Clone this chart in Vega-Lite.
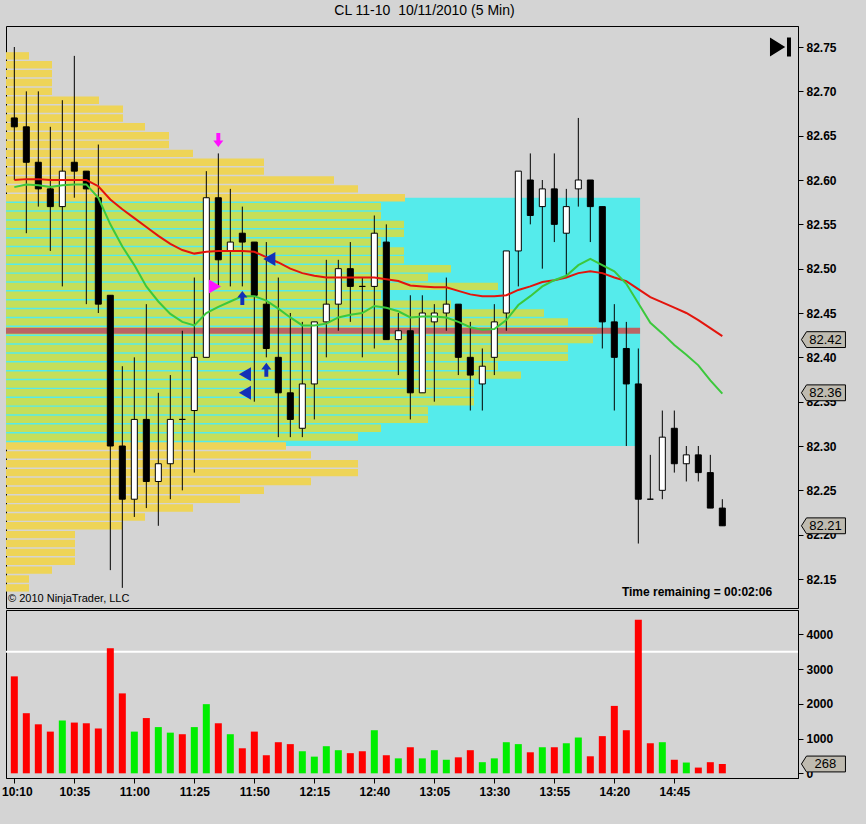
{
  "$schema": "https://vega.github.io/schema/vega-lite/v6.json",
  "background": "#d4d4d4",
  "padding": {"left": 0, "top": 3, "right": 19, "bottom": 26},
  "title": {
    "text": "CL 11-10\u00a0 10/11/2010 (5 Min)",
    "font": "Liberation Sans",
    "fontSize": 14,
    "fontWeight": "normal",
    "color": "#000000",
    "anchor": "middle",
    "offset": 8
  },
  "spacing": 0,
  "config": {
    "view": {"stroke": "#000000", "strokeWidth": 1},
    "axis": {
      "labelFont": "Liberation Sans",
      "labelFontSize": 12,
      "labelFontWeight": "bold",
      "labelColor": "#000000",
      "domainColor": "#000000",
      "tickColor": "#000000",
      "tickSize": 5,
      "grid": false
    }
  },
  "datasets": {
    "bars": [
      {"t": "2010-10-11T10:10", "o": 82.67, "h": 82.75, "l": 82.60, "c": 82.66, "vol": 2790, "ma1": 82.600, "ma2": 82.592},
      {"t": "2010-10-11T10:15", "o": 82.66, "h": 82.70, "l": 82.54, "c": 82.62, "vol": 1730, "ma1": 82.601, "ma2": 82.595},
      {"t": "2010-10-11T10:20", "o": 82.62, "h": 82.70, "l": 82.57, "c": 82.59, "vol": 1410, "ma1": 82.601, "ma2": 82.594},
      {"t": "2010-10-11T10:25", "o": 82.59, "h": 82.66, "l": 82.52, "c": 82.57, "vol": 1200, "ma1": 82.600, "ma2": 82.592},
      {"t": "2010-10-11T10:30", "o": 82.57, "h": 82.69, "l": 82.48, "c": 82.61, "vol": 1520, "ma1": 82.600, "ma2": 82.594},
      {"t": "2010-10-11T10:35", "o": 82.62, "h": 82.74, "l": 82.58, "c": 82.61, "vol": 1460, "ma1": 82.600, "ma2": 82.595},
      {"t": "2010-10-11T10:40", "o": 82.61, "h": 82.61, "l": 82.46, "c": 82.59, "vol": 1440, "ma1": 82.600, "ma2": 82.595},
      {"t": "2010-10-11T10:45", "o": 82.58, "h": 82.64, "l": 82.45, "c": 82.46, "vol": 1290, "ma1": 82.593, "ma2": 82.580},
      {"t": "2010-10-11T10:50", "o": 82.47, "h": 82.47, "l": 82.16, "c": 82.30, "vol": 3600, "ma1": 82.578, "ma2": 82.550},
      {"t": "2010-10-11T10:55", "o": 82.30, "h": 82.39, "l": 82.14, "c": 82.24, "vol": 2300, "ma1": 82.567, "ma2": 82.525},
      {"t": "2010-10-11T11:00", "o": 82.24, "h": 82.40, "l": 82.22, "c": 82.33, "vol": 1200, "ma1": 82.557, "ma2": 82.504},
      {"t": "2010-10-11T11:05", "o": 82.33, "h": 82.46, "l": 82.23, "c": 82.26, "vol": 1590, "ma1": 82.547, "ma2": 82.480},
      {"t": "2010-10-11T11:10", "o": 82.26, "h": 82.36, "l": 82.21, "c": 82.28, "vol": 1330, "ma1": 82.537, "ma2": 82.463},
      {"t": "2010-10-11T11:15", "o": 82.28, "h": 82.38, "l": 82.24, "c": 82.33, "vol": 1170, "ma1": 82.528, "ma2": 82.449},
      {"t": "2010-10-11T11:20", "o": 82.33, "h": 82.43, "l": 82.25, "c": 82.33, "vol": 1125, "ma1": 82.521, "ma2": 82.440},
      {"t": "2010-10-11T11:25", "o": 82.34, "h": 82.49, "l": 82.27, "c": 82.40, "vol": 1330, "ma1": 82.517, "ma2": 82.436},
      {"t": "2010-10-11T11:30", "o": 82.40, "h": 82.61, "l": 82.40, "c": 82.58, "vol": 1990, "ma1": 82.519, "ma2": 82.450},
      {"t": "2010-10-11T11:35", "o": 82.58, "h": 82.63, "l": 82.48, "c": 82.51, "vol": 1440, "ma1": 82.520, "ma2": 82.457},
      {"t": "2010-10-11T11:40", "o": 82.52, "h": 82.59, "l": 82.48, "c": 82.53, "vol": 1125, "ma1": 82.520, "ma2": 82.463},
      {"t": "2010-10-11T11:45", "o": 82.54, "h": 82.57, "l": 82.48, "c": 82.53, "vol": 720, "ma1": 82.520, "ma2": 82.469},
      {"t": "2010-10-11T11:50", "o": 82.53, "h": 82.53, "l": 82.35, "c": 82.47, "vol": 1200, "ma1": 82.519, "ma2": 82.469},
      {"t": "2010-10-11T11:55", "o": 82.46, "h": 82.53, "l": 82.40, "c": 82.41, "vol": 520, "ma1": 82.513, "ma2": 82.464},
      {"t": "2010-10-11T12:00", "o": 82.40, "h": 82.49, "l": 82.31, "c": 82.36, "vol": 895, "ma1": 82.507, "ma2": 82.455},
      {"t": "2010-10-11T12:05", "o": 82.36, "h": 82.45, "l": 82.31, "c": 82.33, "vol": 840, "ma1": 82.500, "ma2": 82.445},
      {"t": "2010-10-11T12:10", "o": 82.32, "h": 82.44, "l": 82.31, "c": 82.37, "vol": 635, "ma1": 82.495, "ma2": 82.436},
      {"t": "2010-10-11T12:15", "o": 82.37, "h": 82.44, "l": 82.33, "c": 82.44, "vol": 480, "ma1": 82.492, "ma2": 82.436},
      {"t": "2010-10-11T12:20", "o": 82.44, "h": 82.51, "l": 82.40, "c": 82.46, "vol": 780, "ma1": 82.490, "ma2": 82.438},
      {"t": "2010-10-11T12:25", "o": 82.46, "h": 82.51, "l": 82.43, "c": 82.50, "vol": 665, "ma1": 82.490, "ma2": 82.445},
      {"t": "2010-10-11T12:30", "o": 82.50, "h": 82.53, "l": 82.44, "c": 82.48, "vol": 580, "ma1": 82.490, "ma2": 82.448},
      {"t": "2010-10-11T12:35", "o": 82.48, "h": 82.49, "l": 82.40, "c": 82.48, "vol": 635, "ma1": 82.490, "ma2": 82.450},
      {"t": "2010-10-11T12:40", "o": 82.48, "h": 82.56, "l": 82.41, "c": 82.54, "vol": 1240, "ma1": 82.490, "ma2": 82.458},
      {"t": "2010-10-11T12:45", "o": 82.53, "h": 82.55, "l": 82.42, "c": 82.42, "vol": 520, "ma1": 82.488, "ma2": 82.456},
      {"t": "2010-10-11T12:50", "o": 82.42, "h": 82.45, "l": 82.38, "c": 82.43, "vol": 430, "ma1": 82.486, "ma2": 82.452},
      {"t": "2010-10-11T12:55", "o": 82.43, "h": 82.47, "l": 82.33, "c": 82.36, "vol": 750, "ma1": 82.481, "ma2": 82.445},
      {"t": "2010-10-11T13:00", "o": 82.36, "h": 82.47, "l": 82.36, "c": 82.45, "vol": 430, "ma1": 82.480, "ma2": 82.446},
      {"t": "2010-10-11T13:05", "o": 82.44, "h": 82.46, "l": 82.35, "c": 82.45, "vol": 665, "ma1": 82.479, "ma2": 82.446},
      {"t": "2010-10-11T13:10", "o": 82.45, "h": 82.49, "l": 82.43, "c": 82.46, "vol": 390, "ma1": 82.479, "ma2": 82.445},
      {"t": "2010-10-11T13:15", "o": 82.46, "h": 82.46, "l": 82.38, "c": 82.40, "vol": 460, "ma1": 82.475, "ma2": 82.440},
      {"t": "2010-10-11T13:20", "o": 82.40, "h": 82.44, "l": 82.34, "c": 82.38, "vol": 665, "ma1": 82.471, "ma2": 82.434},
      {"t": "2010-10-11T13:25", "o": 82.37, "h": 82.41, "l": 82.34, "c": 82.39, "vol": 320, "ma1": 82.469, "ma2": 82.431},
      {"t": "2010-10-11T13:30", "o": 82.40, "h": 82.46, "l": 82.38, "c": 82.44, "vol": 430, "ma1": 82.469, "ma2": 82.432},
      {"t": "2010-10-11T13:35", "o": 82.45, "h": 82.52, "l": 82.43, "c": 82.52, "vol": 895, "ma1": 82.470, "ma2": 82.442},
      {"t": "2010-10-11T13:40", "o": 82.52, "h": 82.61, "l": 82.48, "c": 82.61, "vol": 840, "ma1": 82.476, "ma2": 82.459},
      {"t": "2010-10-11T13:45", "o": 82.60, "h": 82.63, "l": 82.55, "c": 82.56, "vol": 605, "ma1": 82.480, "ma2": 82.469},
      {"t": "2010-10-11T13:50", "o": 82.57, "h": 82.60, "l": 82.50, "c": 82.59, "vol": 750, "ma1": 82.485, "ma2": 82.480},
      {"t": "2010-10-11T13:55", "o": 82.59, "h": 82.63, "l": 82.53, "c": 82.55, "vol": 750, "ma1": 82.487, "ma2": 82.487},
      {"t": "2010-10-11T14:00", "o": 82.54, "h": 82.59, "l": 82.49, "c": 82.57, "vol": 865, "ma1": 82.490, "ma2": 82.492},
      {"t": "2010-10-11T14:05", "o": 82.59, "h": 82.67, "l": 82.57, "c": 82.60, "vol": 1030, "ma1": 82.495, "ma2": 82.504},
      {"t": "2010-10-11T14:10", "o": 82.60, "h": 82.60, "l": 82.53, "c": 82.57, "vol": 490, "ma1": 82.497, "ma2": 82.511},
      {"t": "2010-10-11T14:15", "o": 82.57, "h": 82.57, "l": 82.41, "c": 82.44, "vol": 1070, "ma1": 82.495, "ma2": 82.504},
      {"t": "2010-10-11T14:20", "o": 82.44, "h": 82.46, "l": 82.34, "c": 82.40, "vol": 1940, "ma1": 82.490, "ma2": 82.497},
      {"t": "2010-10-11T14:25", "o": 82.41, "h": 82.44, "l": 82.30, "c": 82.37, "vol": 1240, "ma1": 82.486, "ma2": 82.483},
      {"t": "2010-10-11T14:30", "o": 82.37, "h": 82.41, "l": 82.19, "c": 82.24, "vol": 4420, "ma1": 82.477, "ma2": 82.461},
      {"t": "2010-10-11T14:35", "o": 82.24, "h": 82.29, "l": 82.24, "c": 82.24, "vol": 865, "ma1": 82.468, "ma2": 82.439},
      {"t": "2010-10-11T14:40", "o": 82.25, "h": 82.34, "l": 82.24, "c": 82.31, "vol": 895, "ma1": 82.462, "ma2": 82.427},
      {"t": "2010-10-11T14:45", "o": 82.32, "h": 82.34, "l": 82.27, "c": 82.28, "vol": 390, "ma1": 82.456, "ma2": 82.414},
      {"t": "2010-10-11T14:50", "o": 82.28, "h": 82.30, "l": 82.26, "c": 82.29, "vol": 310, "ma1": 82.450, "ma2": 82.403},
      {"t": "2010-10-11T14:55", "o": 82.29, "h": 82.30, "l": 82.26, "c": 82.27, "vol": 165, "ma1": 82.442, "ma2": 82.391},
      {"t": "2010-10-11T15:00", "o": 82.27, "h": 82.29, "l": 82.23, "c": 82.23, "vol": 320, "ma1": 82.433, "ma2": 82.374},
      {"t": "2010-10-11T15:05", "o": 82.23, "h": 82.24, "l": 82.21, "c": 82.21, "vol": 268, "ma1": 82.424, "ma2": 82.359}
    ],
    "profile": [
      {"p": 82.74, "v": 230}, {"p": 82.73, "v": 460}, {"p": 82.72, "v": 460}, {"p": 82.71, "v": 460},
      {"p": 82.70, "v": 460}, {"p": 82.69, "v": 930}, {"p": 82.68, "v": 1170}, {"p": 82.67, "v": 1170},
      {"p": 82.66, "v": 1390}, {"p": 82.65, "v": 1630}, {"p": 82.64, "v": 1630}, {"p": 82.63, "v": 1870},
      {"p": 82.62, "v": 2580}, {"p": 82.61, "v": 2580}, {"p": 82.60, "v": 3280}, {"p": 82.59, "v": 3520},
      {"p": 82.58, "v": 3990}, {"p": 82.57, "v": 3750}, {"p": 82.56, "v": 3750}, {"p": 82.55, "v": 3980},
      {"p": 82.54, "v": 3980}, {"p": 82.53, "v": 3750}, {"p": 82.52, "v": 3980}, {"p": 82.51, "v": 3980},
      {"p": 82.50, "v": 4450}, {"p": 82.49, "v": 4220}, {"p": 82.48, "v": 4920}, {"p": 82.47, "v": 3750},
      {"p": 82.46, "v": 4450}, {"p": 82.45, "v": 5380}, {"p": 82.44, "v": 5620}, {"p": 82.43, "v": 5910},
      {"p": 82.42, "v": 5870}, {"p": 82.41, "v": 5620}, {"p": 82.40, "v": 5620}, {"p": 82.39, "v": 4920},
      {"p": 82.38, "v": 5150}, {"p": 82.37, "v": 4680}, {"p": 82.36, "v": 4680}, {"p": 82.35, "v": 4680},
      {"p": 82.34, "v": 4220}, {"p": 82.33, "v": 4220}, {"p": 82.32, "v": 3750}, {"p": 82.31, "v": 3520},
      {"p": 82.30, "v": 2800}, {"p": 82.29, "v": 3050}, {"p": 82.28, "v": 3520}, {"p": 82.27, "v": 3520},
      {"p": 82.26, "v": 3050}, {"p": 82.25, "v": 2580}, {"p": 82.24, "v": 2340}, {"p": 82.23, "v": 1870},
      {"p": 82.22, "v": 1390}, {"p": 82.21, "v": 1160}, {"p": 82.20, "v": 690}, {"p": 82.19, "v": 690},
      {"p": 82.18, "v": 690}, {"p": 82.17, "v": 690}, {"p": 82.16, "v": 460}, {"p": 82.15, "v": 230},
      {"p": 82.14, "v": 230}
    ],
    "va": [
      {"t0": "2010-10-11T10:06:32", "t1": "2010-10-11T14:30:44", "val": 82.30, "vah": 82.58, "poc": 82.43}
    ],
    "signals": [
      {"t": "2010-10-11T11:35:00", "p": 82.645, "kind": "short"},
      {"t": "2010-10-11T11:33:36", "p": 82.48, "kind": "fill short"},
      {"t": "2010-10-11T11:45:00", "p": 82.467, "kind": "long"},
      {"t": "2010-10-11T11:55:00", "p": 82.386, "kind": "long"},
      {"t": "2010-10-11T11:56:15", "p": 82.511, "kind": "fill long"},
      {"t": "2010-10-11T11:46:06", "p": 82.381, "kind": "fill long"},
      {"t": "2010-10-11T11:46:06", "p": 82.36, "kind": "fill long"}
    ],
    "flags": [
      {"p": 82.42}, {"p": 82.36}, {"p": 82.21}
    ],
    "volflag": [
      {"v": 268}
    ]
  },
  "vconcat": [
    {
      "width": 792,
      "height": 582,
      "layer": [
        {
          "data": {"name": "va"},
          "mark": {"type": "rect", "color": "#55ebeb"},
          "encoding": {
            "x": {"field": "t0", "type": "temporal", "axis": null,
                  "scale": {"nice": false, "padding": 0, "domain": [
                    {"year": 2010, "month": 10, "date": 11, "hours": 10, "minutes": 6, "seconds": 32},
                    {"year": 2010, "month": 10, "date": 11, "hours": 15, "minutes": 36, "seconds": 32}]}},
            "x2": {"field": "t1"},
            "y": {"field": "val", "type": "quantitative", "title": null,
                  "scale": {"domain": [82.1173, 82.7737], "nice": false, "zero": false, "padding": 0},
                  "axis": {"orient": "right", "format": ".2f", "labelPadding": 3,
                           "values": [82.15, 82.2, 82.25, 82.3, 82.35, 82.4, 82.45, 82.5, 82.55, 82.6, 82.65, 82.7, 82.75]}},
            "y2": {"field": "vah"}
          }
        },
        {
          "data": {"name": "profile"},
          "mark": {"type": "bar", "orient": "horizontal", "size": 7.4},
          "encoding": {
            "x": {"field": "v", "type": "quantitative", "axis": null, "scale": {"domain": [0, 7920], "nice": false, "padding": 0}},
            "y": {"field": "p", "type": "quantitative", "title": null},
            "color": {
              "condition": {"test": "datum.p > 82.305 && datum.p < 82.575", "value": "#c5df5a"},
              "value": "#eed457"
            }
          }
        },
        {
          "layer": [
            {
              "data": {"name": "va"},
              "mark": {"type": "rule", "color": "#bb6464", "strokeWidth": 6},
              "encoding": {
                "x": {"field": "t0", "type": "temporal", "axis": null,
                      "scale": {"nice": false, "padding": 0, "domain": [
                        {"year": 2010, "month": 10, "date": 11, "hours": 10, "minutes": 6, "seconds": 32},
                        {"year": 2010, "month": 10, "date": 11, "hours": 15, "minutes": 36, "seconds": 32}]}},
                "x2": {"field": "t1"},
                "y": {"field": "poc", "type": "quantitative", "title": null}
              }
            },
            {
              "data": {"name": "bars"},
              "mark": {"type": "rule", "color": "#000000", "strokeWidth": 1},
              "encoding": {
                "x": {"field": "t", "type": "temporal", "axis": null},
                "y": {"field": "l", "type": "quantitative", "title": null},
                "y2": {"field": "h"}
              }
            },
            {
              "data": {"name": "bars"},
              "mark": {"type": "bar", "width": 6, "stroke": "#000000", "strokeWidth": 1},
              "encoding": {
                "x": {"field": "t", "type": "temporal", "axis": null},
                "y": {"field": "o", "type": "quantitative", "title": null},
                "y2": {"field": "c"},
                "fill": {"condition": {"test": "datum.c > datum.o", "value": "#ffffff"}, "value": "#000000"}
              }
            },
            {
              "data": {"name": "bars"},
              "mark": {"type": "line", "color": "#e3140c", "strokeWidth": 2},
              "encoding": {
                "x": {"field": "t", "type": "temporal", "axis": null},
                "y": {"field": "ma1", "type": "quantitative", "title": null}
              }
            },
            {
              "data": {"name": "bars"},
              "mark": {"type": "line", "color": "#3cc83c", "strokeWidth": 2},
              "encoding": {
                "x": {"field": "t", "type": "temporal", "axis": null},
                "y": {"field": "ma2", "type": "quantitative", "title": null}
              }
            },
            {
              "data": {"name": "signals"},
              "mark": {"type": "point", "filled": true, "opacity": 1},
              "encoding": {
                "x": {"field": "t", "type": "temporal", "axis": null},
                "y": {"field": "p", "type": "quantitative", "title": null},
                "shape": {"field": "kind", "type": "nominal", "legend": null,
                          "scale": {"domain": ["long", "short", "fill long", "fill short"],
                                    "range": ["M-0.28,1L0.28,1L0.28,-0.05L0.72,-0.05L0,-1L-0.72,-0.05L-0.28,-0.05Z",
                                              "M-0.28,-1L0.28,-1L0.28,0.05L0.72,0.05L0,1L-0.72,0.05L-0.28,0.05Z",
                                              "triangle-left", "triangle-right"]}},
                "size": {"field": "kind", "type": "ordinal", "legend": null,
                         "scale": {"domain": ["long", "short", "fill long", "fill short"], "range": [196, 196, 26, 26]}},
                "color": {"field": "kind", "type": "nominal", "legend": null,
                          "scale": {"domain": ["long", "short", "fill long", "fill short"],
                                    "range": ["#1230b8", "#ff10ff", "#1230b8", "#ff10ff"]}}
              }
            },
            {
              "data": {"values": [{}]},
              "mark": {"type": "point", "filled": true, "opacity": 1, "color": "#000000", "size": 441,
                       "shape": "M-1,-0.9L0.45,0L-1,0.9Z M0.62,-0.9L1,-0.9L1,0.9L0.62,0.9Z"},
              "encoding": {
                "x": {"datum": {"year": 2010, "month": 10, "date": 11, "hours": 15, "minutes": 29, "seconds": 14}, "type": "temporal", "axis": null},
                "y": {"datum": 82.75, "type": "quantitative"}
              }
            },
            {
              "data": {"values": [{}]},
              "mark": {"type": "text", "align": "left", "baseline": "alphabetic", "font": "Liberation Sans", "fontSize": 11, "color": "#000000"},
              "encoding": {
                "x": {"datum": {"year": 2010, "month": 10, "date": 11, "hours": 10, "minutes": 7, "seconds": 22}, "type": "temporal", "axis": null},
                "y": {"datum": 82.1243, "type": "quantitative"},
                "text": {"value": "© 2010 NinjaTrader, LLC"}
              }
            },
            {
              "data": {"values": [{}]},
              "mark": {"type": "text", "align": "right", "baseline": "alphabetic", "font": "Liberation Sans", "fontSize": 12, "fontWeight": "bold", "color": "#000000"},
              "encoding": {
                "x": {"datum": {"year": 2010, "month": 10, "date": 11, "hours": 15, "minutes": 25, "seconds": 44}, "type": "temporal", "axis": null},
                "y": {"datum": 82.131, "type": "quantitative"},
                "text": {"value": "Time remaining = 00:02:06"}
              }
            },
            {
              "data": {"name": "flags"},
              "mark": {"type": "point", "filled": true, "opacity": 1, "color": "#bfbbb0", "stroke": "#000000", "strokeWidth": 1, "size": 1936,
                       "shape": "M-1,0L-0.77,-0.36L1,-0.36L1,0.36L-0.77,0.36Z"},
              "encoding": {
                "x": {"datum": {"year": 2010, "month": 10, "date": 11, "hours": 15, "minutes": 47, "seconds": 8}, "type": "temporal", "axis": null},
                "y": {"field": "p", "type": "quantitative", "title": null}
              }
            },
            {
              "data": {"name": "flags"},
              "mark": {"type": "text", "font": "Liberation Sans", "fontSize": 13, "color": "#000000", "dx": 2},
              "encoding": {
                "x": {"datum": {"year": 2010, "month": 10, "date": 11, "hours": 15, "minutes": 47, "seconds": 8}, "type": "temporal", "axis": null},
                "y": {"field": "p", "type": "quantitative", "title": null},
                "text": {"field": "p", "type": "quantitative", "format": ".2f"}
              }
            }
          ]
        }
      ],
      "resolve": {"scale": {"x": "independent"}}
    },
    {
      "width": 792,
      "height": 168,
      "layer": [
        {
          "data": {"values": [{}]},
          "mark": {"type": "rule", "color": "#ffffff", "strokeWidth": 2},
          "encoding": {
            "y": {"datum": 3500, "type": "quantitative"}
          }
        },
        {
          "data": {"name": "bars"},
          "mark": {"type": "bar", "width": 7},
          "encoding": {
            "x": {"field": "t", "type": "temporal", "title": null,
                  "scale": {"nice": false, "padding": 0, "domain": [
                    {"year": 2010, "month": 10, "date": 11, "hours": 10, "minutes": 6, "seconds": 32},
                    {"year": 2010, "month": 10, "date": 11, "hours": 15, "minutes": 36, "seconds": 32}]},
                  "axis": {"orient": "bottom", "format": "%H:%M", "labelPadding": 3, "labelFlush": false,
                           "labelOffset": {"condition": {"test": "datum.index == 0", "value": 2.5}, "value": 0},
                           "values": [
                             {"year": 2010, "month": 10, "date": 11, "hours": 10, "minutes": 10},
                             {"year": 2010, "month": 10, "date": 11, "hours": 10, "minutes": 35},
                             {"year": 2010, "month": 10, "date": 11, "hours": 11, "minutes": 0},
                             {"year": 2010, "month": 10, "date": 11, "hours": 11, "minutes": 25},
                             {"year": 2010, "month": 10, "date": 11, "hours": 11, "minutes": 50},
                             {"year": 2010, "month": 10, "date": 11, "hours": 12, "minutes": 15},
                             {"year": 2010, "month": 10, "date": 11, "hours": 12, "minutes": 40},
                             {"year": 2010, "month": 10, "date": 11, "hours": 13, "minutes": 5},
                             {"year": 2010, "month": 10, "date": 11, "hours": 13, "minutes": 30},
                             {"year": 2010, "month": 10, "date": 11, "hours": 13, "minutes": 55},
                             {"year": 2010, "month": 10, "date": 11, "hours": 14, "minutes": 20},
                             {"year": 2010, "month": 10, "date": 11, "hours": 14, "minutes": 45}]}},
            "y": {"field": "vol", "type": "quantitative", "title": null,
                  "scale": {"domain": [-135, 4700], "nice": false, "padding": 0},
                  "axis": {"orient": "right", "labelPadding": 3, "format": "d", "values": [0, 1000, 2000, 3000, 4000]}},
            "color": {"condition": {"test": "datum.c > datum.o", "value": "#00ee00"}, "value": "#ff0000"}
          }
        },
        {
          "data": {"name": "volflag"},
          "mark": {"type": "point", "filled": true, "opacity": 1, "color": "#bfbbb0", "stroke": "#000000", "strokeWidth": 1, "size": 1936,
                   "shape": "M-1,0L-0.77,-0.36L1,-0.36L1,0.36L-0.77,0.36Z"},
          "encoding": {
            "x": {"datum": {"year": 2010, "month": 10, "date": 11, "hours": 15, "minutes": 47, "seconds": 8}, "type": "temporal"},
            "y": {"field": "v", "type": "quantitative"}
          }
        },
        {
          "data": {"name": "volflag"},
          "mark": {"type": "text", "font": "Liberation Sans", "fontSize": 13, "color": "#000000", "dx": 2},
          "encoding": {
            "x": {"datum": {"year": 2010, "month": 10, "date": 11, "hours": 15, "minutes": 47, "seconds": 8}, "type": "temporal"},
            "y": {"field": "v", "type": "quantitative"},
            "text": {"field": "v", "type": "quantitative"}
          }
        }
      ]
    }
  ]
}
